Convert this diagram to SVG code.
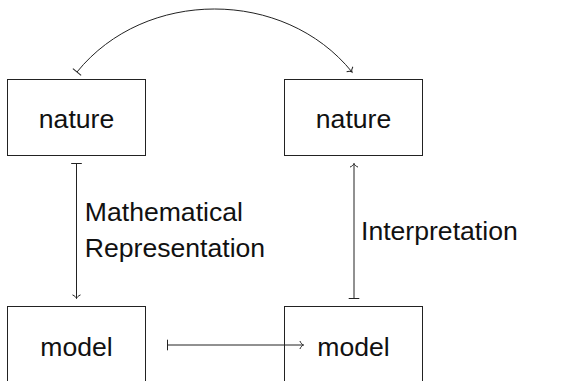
<svg xmlns="http://www.w3.org/2000/svg" width="571" height="381" viewBox="0 0 571 381">
<style>
.box{fill:#fff;stroke:#222;stroke-width:1}
.lbl{font-family:"Liberation Sans",Arial,sans-serif;font-size:26.6px;fill:#111}
.c{text-anchor:middle}
.edge{fill:none;stroke:#222;stroke-width:1}
</style>
<defs>
<marker id="to" viewBox="-6 -6 12 12" markerWidth="12" markerHeight="12" markerUnits="userSpaceOnUse" refX="0" refY="0" orient="auto" overflow="visible">
<path d="M-3.6,-4 C-2.6,-1.6 -1.1,-0.4 0,0 C-1.1,0.4 -2.6,1.6 -3.6,4" fill="none" stroke="#222" stroke-width="1"/>
</marker>
<marker id="bar" viewBox="-6 -6 12 12" markerWidth="12" markerHeight="12" markerUnits="userSpaceOnUse" refX="0" refY="0" orient="auto" overflow="visible">
<path d="M0,-5.3 L0,5.3" fill="none" stroke="#222" stroke-width="1"/>
</marker>
</defs>
<g id="nature1"><rect class="box" x="7.5" y="79.5" width="138" height="76"/><text class="lbl c" x="76.5" y="128.3">nature</text></g>
<g id="nature2"><rect class="box" x="284.5" y="79.5" width="138" height="76"/><text class="lbl c" x="353.5" y="128.3">nature</text></g>
<g id="model1"><rect class="box" x="7.5" y="306.5" width="138" height="80"/><text class="lbl c" x="76.5" y="355.8">model</text></g>
<g id="model2"><rect class="box" x="284.5" y="306.5" width="138" height="80"/><text class="lbl c" x="353.5" y="355.8">model</text></g>
<g id="connectors">
<path class="edge" d="M76.5,163.5 L76.5,298.5" marker-start="url(#bar)" marker-end="url(#to)"/>
<path class="edge" d="M354,298.5 L354,163.5" marker-start="url(#bar)" marker-end="url(#to)"/>
<path class="edge" d="M167.5,345 L303.5,345" marker-start="url(#bar)" marker-end="url(#to)"/>
<path class="edge" d="M77,72 C145,-12 284,-12 352,72" marker-start="url(#bar)" marker-end="url(#to)"/>
<text class="lbl" x="84.8" y="221.2">Mathematical</text>
<text class="lbl" x="84.8" y="256.8">Representation</text>
<text class="lbl" x="361" y="240">Interpretation</text>
</g>
</svg>
